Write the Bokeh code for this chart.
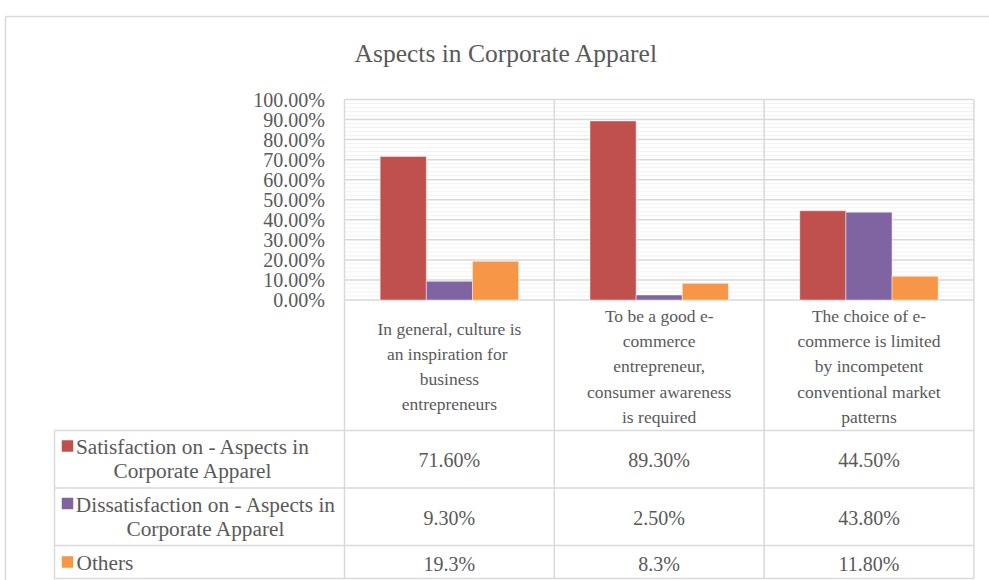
from bokeh.plotting import figure
from bokeh.models import Range1d
from bokeh.core.properties import value
from bokeh.embed import file_html
from bokeh.resources import INLINE

# ---------------- data ----------------
title_text = "Aspects in Corporate Apparel"
categories = [
    "In general, culture is\nan inspiration  for\nbusiness\nentrepreneurs",
    "To be a good e-\ncommerce\nentrepreneur,\nconsumer awareness\nis required",
    "The choice of e-\ncommerce is limited\nby incompetent\nconventional market\npatterns",
]
series_names = [
    "Satisfaction on - Aspects in\nCorporate Apparel",
    "Dissatisfaction on - Aspects in\nCorporate Apparel",
    "Others",
]
satisfaction = [71.6, 89.3, 44.5]
dissatisfaction = [9.3, 2.5, 43.8]
others = [19.3, 8.3, 11.8]
table_labels = [
    ["71.60%", "89.30%", "44.50%"],
    ["9.30%", "2.50%", "43.80%"],
    ["19.3%", "8.3%", "11.80%"],
]
y_ticks = [0, 10, 20, 30, 40, 50, 60, 70, 80, 90, 100]
y_tick_labels = ["0.00%", "10.00%", "20.00%", "30.00%", "40.00%", "50.00%",
                 "60.00%", "70.00%", "80.00%", "90.00%", "100.00%"]
colors = ["#C0504D", "#8064A2", "#F79646"]

# ---------------- layout ----------------
W, H = 989, 580
OFF = 0                     # page offset of the canvas as photographed
PX0, SX = 344.0, 209.8      # page x of category axis start, px per category
PY0, SY = 299.5, 2.005      # page y of 0%, px per percent
FONT = value("Liberation Serif")
TXT = "#595959"
GRID = "#d9d9d9"
MINOR = "#f2f2f2"


def X(px):
    return (px - PX0) / SX


def Y(py):
    return (PY0 - py) / SY


p = figure(width=W, height=H, output_backend="svg", toolbar_location=None,
           x_range=Range1d(X(OFF), X(OFF + W)), y_range=Range1d(Y(OFF + H), Y(OFF)),
           min_border=0)
p.axis.visible = False
p.grid.visible = False
p.outline_line_color = None
p.background_fill_color = "white"

ncat = len(categories)

# outer chart border
p.segment(x0=[X(5), X(5)], y0=[Y(16), Y(16)], x1=[X(1000), X(5)], y1=[Y(16), Y(600)],
          line_color=GRID, line_width=1.5)

# title
p.text(x=[X(506)], y=[Y(53)], text=[title_text], text_font=FONT, text_font_size="25.5px",
       text_color=TXT, text_align="center", text_baseline="middle")

# minor gridlines (every 2%)
minor = [v for v in range(2, 100, 2) if v % 10 != 0]
p.segment(x0=[0] * len(minor), x1=[ncat] * len(minor), y0=minor, y1=minor,
          line_color=MINOR, line_width=1)
# major gridlines
p.segment(x0=[0] * len(y_ticks), x1=[ncat] * len(y_ticks), y0=y_ticks, y1=y_ticks,
          line_color=GRID, line_width=1.5)

# y tick labels
p.text(x=[X(324.5)] * len(y_ticks), y=y_ticks, text=y_tick_labels, text_font=FONT,
       text_font_size="20px", text_color=TXT, text_align="right", text_baseline="middle")

# bars
bw = 0.22
for k, vals in enumerate([satisfaction, dissatisfaction, others]):
    xs = [i + 0.5 + (k - 1) * bw for i in range(ncat)]
    p.vbar(x=xs, top=vals, bottom=0, width=bw, fill_color=colors[k],
           line_color="white", line_alpha=0.45, line_width=1)

# table lines
row_lines = [430, 487.5, 545, 578]
p.segment(x0=[X(54)] * len(row_lines), x1=[ncat] * len(row_lines),
          y0=[Y(r) for r in row_lines], y1=[Y(r) for r in row_lines],
          line_color=GRID, line_width=1.5)
vx = list(range(ncat + 1))
p.segment(x0=vx, x1=vx, y0=[100] * len(vx), y1=[Y(578)] * len(vx),
          line_color=GRID, line_width=1.5)
p.segment(x0=[X(54)], x1=[X(54)], y0=[Y(430)], y1=[Y(578)], line_color=GRID, line_width=1.5)

# category labels (header row of the data table)
p.text(x=[i + 0.5 for i in range(ncat)], y=[Y(366)] * ncat, text=categories,
       text_font=FONT, text_font_size="17.5px", text_color=TXT, text_align="center",
       text_baseline="middle", text_line_height=1.26)

# table values
row_centers = [459.5, 517.5, 563]
for r, labels in enumerate(table_labels):
    p.text(x=[i + 0.5 for i in range(ncat)], y=[Y(row_centers[r])] * ncat, text=labels,
           text_font=FONT, text_font_size="20px", text_color=TXT, text_align="center",
           text_baseline="middle")

# legend keys + series names
key_y = [445.5, 503, 561.5]
p.scatter(x=[X(67)] * 3, y=[Y(v) for v in key_y], marker="square", size=11.5,
          fill_color=colors, line_color=None)
name_x = [192.5, 205.5, 76]
name_align = ["center", "center", "left"]
for r, name in enumerate(series_names):
    p.text(x=[X(name_x[r])], y=[Y(row_centers[r] - 1)], text=[name], text_font=FONT,
           text_font_size="21.3px", text_color=TXT, text_align=name_align[r],
           text_baseline="middle", text_line_height=0.98)

open("out.html", "w").write(file_html(p, INLINE))
